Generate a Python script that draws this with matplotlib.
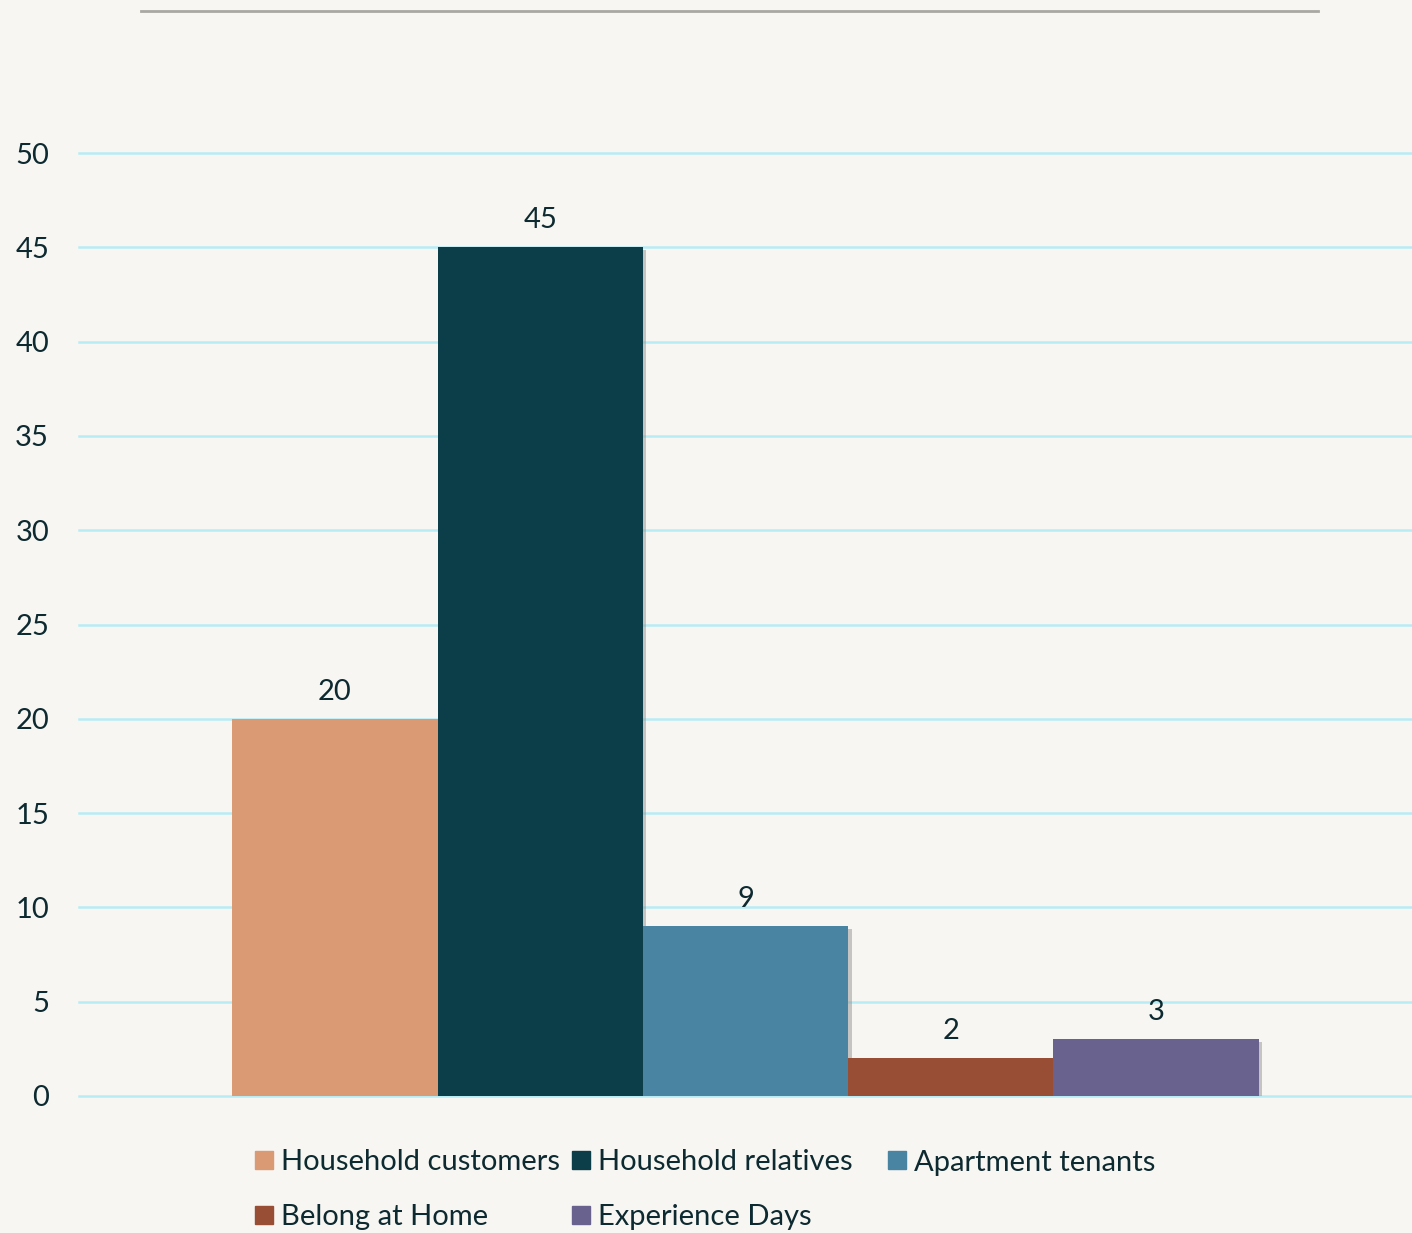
import matplotlib
matplotlib.use("Agg")
import matplotlib.pyplot as plt
import matplotlib.patheffects as pe
from matplotlib.patches import Rectangle
import numpy as np

series = ["Household customers", "Household relatives", "Apartment tenants",
          "Belong at Home", "Experience Days"]
values = [20, 45, 9, 2, 3]
colors = ["#d99a74", "#0b3e48", "#4a84a3", "#974e34", "#69628f"]

bg = "#f7f6f2"
txt = "#0d2a30"
fs = 21
plt.rcParams["font.family"] = ["Lato", "DejaVu Sans"]

W, H = 1412, 1233
fig = plt.figure(figsize=(W / 100, H / 100), dpi=100, facecolor=bg)
ax = fig.add_axes([79 / W, 1 - 1096 / H, 1 - 79 / W, (1096 - 153) / H])
ax.set_facecolor(bg)

# one category, five series side by side
group_w = 0.77
bw = group_w / len(series)
x0 = -group_w / 2 + bw / 2
shadow = [pe.SimplePatchShadow(offset=(2.5, -2), shadow_rgbFace="#888888", alpha=0.45), pe.Normal()]
for i, (v, c) in enumerate(zip(values, colors)):
    ax.bar(x0 + i * bw, v, width=bw, color=c, zorder=3, path_effects=shadow)
    ax.text(x0 + i * bw, v + 0.75, str(v), ha="center", va="bottom", fontsize=fs, color=txt)

ax.set_xlim(-0.5, 0.5)
ax.set_ylim(0, 50)
ticks = np.arange(0, 51, 5)
ax.set_yticks(ticks)
ax.set_xticks([])
for t in ticks:
    ax.axhline(t, color="#b8ecf5", linewidth=1.8, zorder=1, clip_on=False)
ax.tick_params(axis="y", length=0, labelsize=fs, labelcolor=txt, pad=21.5)
for s in ax.spines.values():
    s.set_visible(False)

# thin rule across the top
fig.add_artist(plt.Line2D([141 / W, 1318 / W], [1 - 11 / H] * 2,
                          color="#a9a8a3", linewidth=2))

# legend, laid out row by row like the original
leg_x = [255, 572, 888, 255, 572]
leg_y = [1160, 1160, 1160, 1215, 1215]
sq = 18
for name, c, lx, ly in zip(series, colors, leg_x, leg_y):
    fig.add_artist(Rectangle((lx / W, 1 - (ly + sq / 2) / H), sq / W, sq / H,
                             transform=fig.transFigure, color=c))
    fig.text((lx + sq + 8) / W, 1 - ly / H, name, ha="left", va="center_baseline",
             fontsize=fs, color=txt)

fig.savefig("out.png", dpi=100, facecolor=bg)
